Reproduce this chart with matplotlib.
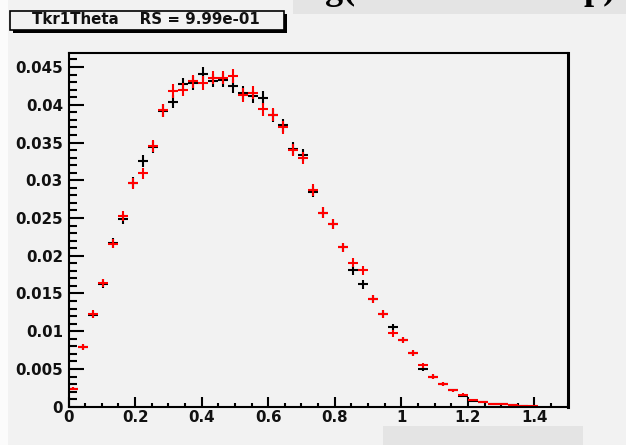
import numpy as np
import matplotlib
matplotlib.use("Agg")
import matplotlib.pyplot as plt
from matplotlib.patches import Rectangle
from matplotlib.ticker import FixedLocator, MultipleLocator

# Tkr1Theta histograms: 50 bins of width 0.03 over [0, 1.5]
bin_width = 0.03
bin_centers = [0.015 + bin_width * i for i in range(50)]

ref_values = [
    0.0024, 0.0079, 0.0122, 0.0163, 0.0217, 0.0249, 0.0297, 0.0325, 0.0344, 0.0392,
    0.0404, 0.0427, 0.0429, 0.0441, 0.0432, 0.0433, 0.0425, 0.0416, 0.0411, 0.0409,
    0.0386, 0.0373, 0.0342, 0.0333, 0.0285, 0.0257, 0.0242, 0.0211, 0.0181, 0.0162,
    0.0143, 0.0123, 0.0105, 0.0088, 0.0071, 0.0050, 0.0040, 0.0030, 0.0022, 0.0014,
    0.0008, 0.0006, 0.0004, 0.0003, 0.0002, 0.0001, 0.0, 0.0, 0.0, 0.0,
]
new_values = [
    0.0024, 0.0079, 0.0123, 0.0164, 0.0216, 0.0253, 0.0296, 0.0309, 0.0345, 0.0393,
    0.0418, 0.0420, 0.0431, 0.0429, 0.0436, 0.0436, 0.0438, 0.0413, 0.0416, 0.0394,
    0.0387, 0.0370, 0.0340, 0.0329, 0.0287, 0.0257, 0.0242, 0.0211, 0.0191, 0.0181,
    0.0143, 0.0123, 0.0097, 0.0088, 0.0071, 0.0055, 0.0040, 0.0030, 0.0022, 0.0016,
    0.0009, 0.0006, 0.0004, 0.0003, 0.0002, 0.0001, 0.00003, 0.0, 0.0, 0.0,
]

# per-bin statistical error ~ sqrt(content * normalisation)
err_norm = 1.9e-5

x_ticks = [0, 0.2, 0.4, 0.6, 0.8, 1.0, 1.2, 1.4]
x_tick_labels = ["0", "0.2", "0.4", "0.6", "0.8", "1", "1.2", "1.4"]
y_ticks = [0, 0.005, 0.01, 0.015, 0.02, 0.025, 0.03, 0.035, 0.04, 0.045]
y_tick_labels = ["0", "0.005", "0.01", "0.015", "0.02", "0.025", "0.03", "0.035", "0.04", "0.045"]

title_text = "Tkr1Theta    RS = 9.99e-01"

W, H = 626, 445
BG = "#f2f2f2"
BAND = "#e4e4e4"


def fx(px):
    return px / W


def fy(py):
    return 1 - py / H


fig = plt.figure(figsize=(W / 100, H / 100), dpi=100, facecolor=BG)

# page strips around the canvas
fig.add_artist(Rectangle((0, 0), fx(8), 1, transform=fig.transFigure,
                         facecolor="#fbfbfb", edgecolor="none", zorder=0))
fig.add_artist(Rectangle((fx(383), 0), fx(200), 19 / H, transform=fig.transFigure,
                         facecolor=BAND, edgecolor="none", zorder=0))

# heading band at the top, only its lower edge in view
band = fig.add_axes([fx(293), fy(14), fx(333), 14 / H])
band.set_facecolor(BAND)
band.set_xlim(0, 333)
band.set_ylim(14, 0)
band.axis("off")
band.add_patch(Rectangle((0, 0), 333, 14, facecolor=BAND, edgecolor="none"))
serif = dict(family=["Liberation Serif", "DejaVu Serif"], weight="bold",
             fontsize=26, color="black", va="baseline", ha="left", clip_on=True)
band.text(32, -1.0, "g(", **serif)
band.text(291, -1.0, "p)", **serif)

# main frame
x0, x1, ytop, ybot = 68.5, 567.7, 52.7, 406.7
ax = fig.add_axes([fx(x0), fy(ybot), fx(x1 - x0), (ybot - ytop) / H])
ax.set_facecolor(BG)
ax.set_xlim(0, 1.5)
ax.set_ylim(0, 0.0469)

xc = np.array(bin_centers)
for vals, color in ((ref_values, "black"), (new_values, "red")):
    v = np.array(vals)
    keep = v > 0
    ax.errorbar(xc[keep], v[keep], xerr=bin_width / 2, yerr=np.sqrt(v[keep] * err_norm),
                fmt="none", ecolor=color, elinewidth=1.5, capsize=0)

ax.xaxis.set_major_locator(FixedLocator(x_ticks))
ax.set_xticklabels(x_tick_labels)
ax.xaxis.set_minor_locator(MultipleLocator(0.05))
ax.yaxis.set_major_locator(FixedLocator(y_ticks))
ax.set_yticklabels(y_tick_labels)
ax.yaxis.set_minor_locator(MultipleLocator(0.001))

ax.tick_params(axis="both", which="both", direction="in", color="black", width=1.5,
               top=False, right=False)
ax.tick_params(axis="x", which="major", length=7.2, pad=2.4)
ax.tick_params(axis="x", which="minor", length=3.0)
ax.tick_params(axis="y", which="major", length=10.8, pad=4)
ax.tick_params(axis="y", which="minor", length=5.8)
for lab in ax.get_xticklabels() + ax.get_yticklabels():
    lab.set_fontfamily("DejaVu Sans")
    lab.set_fontweight("bold")
    lab.set_fontsize(10.8)
    lab.set_color("#111111")
for side, sp in ax.spines.items():
    sp.set_linewidth(2.2 if side == "right" else 1.5)
    sp.set_color("black")

# stats/title box with drop shadow
fig.add_artist(Rectangle((fx(13), fy(33)), fx(274), 19 / H, transform=fig.transFigure,
                         facecolor="black", edgecolor="none", zorder=5))
fig.add_artist(Rectangle((fx(10), fy(30)), fx(274), 19 / H, transform=fig.transFigure,
                         facecolor=BG, edgecolor="black", linewidth=1.2, zorder=6))
fig.text(fx(32), fy(23.5), title_text, family="DejaVu Sans", weight="bold",
         fontsize=10.8, color="#111111", va="baseline", ha="left", zorder=7)

fig.savefig("out.png", dpi=100, facecolor=BG)
